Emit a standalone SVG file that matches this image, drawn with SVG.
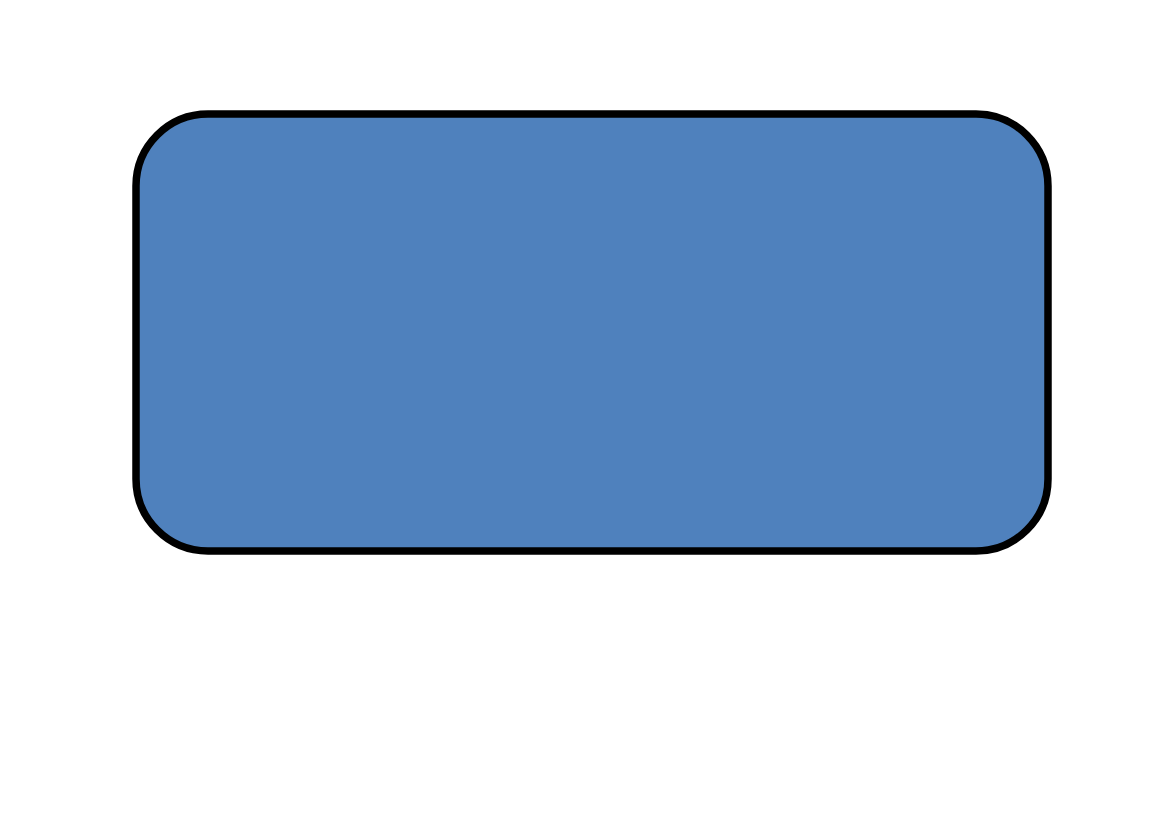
<svg xmlns="http://www.w3.org/2000/svg" width="1169" height="827" viewBox="0 0 1169 827">
<style>
.box{fill:#4F81BD;stroke:#000000;stroke-width:7.5}
</style>
<rect width="1169" height="827" fill="#ffffff"/>
<g id="node1">
<rect class="box" x="136" y="114" width="912" height="437" rx="72" ry="72"/>
</g>
<g id="connectors"></g>
</svg>
